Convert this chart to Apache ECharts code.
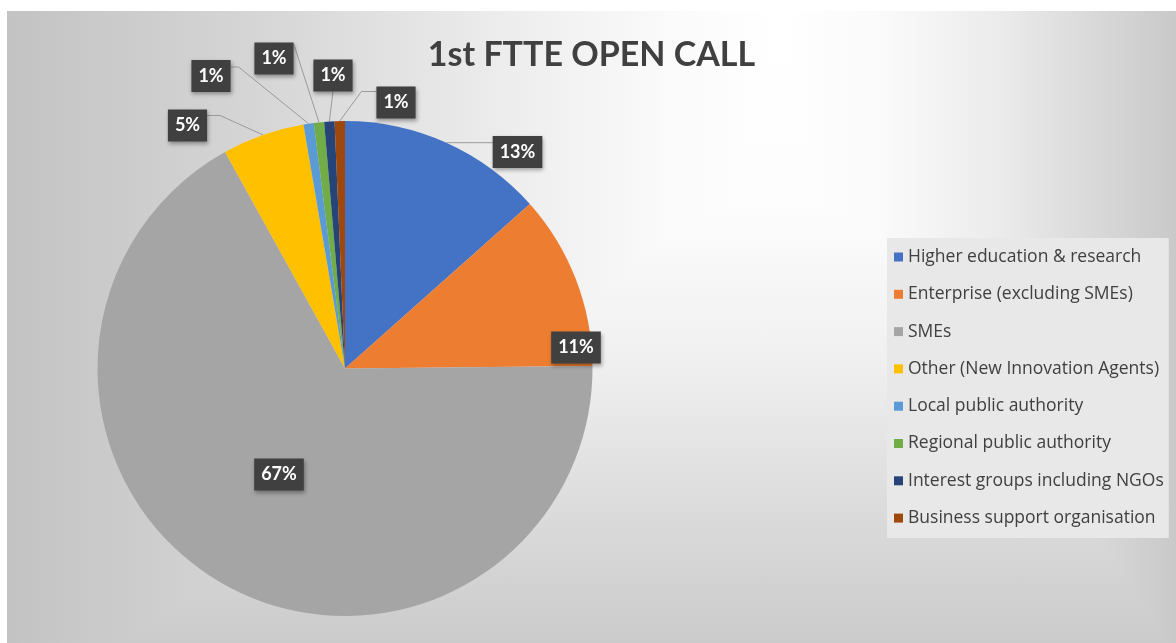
<!DOCTYPE html>
<html>
<head>
<meta charset="utf-8">
<script src="https://cdn.jsdelivr.net/npm/echarts@6/dist/echarts.min.js"></script>
<style>
  html, body { margin: 0; padding: 0; background: #ffffff; }
  #chart {
    position: absolute; left: 7px; top: 11px; width: 1169px; height: 632px;
    background:
      linear-gradient(to right, #c3c3c3 0%, #d6d6d6 22%, #ececec 42%, #fafafa 56%, #ffffff 66%, #fafafa 75%, #ebebeb 85%, #c9c9c9 100%),
      linear-gradient(to bottom, #ffffff 0%, #fdfdfd 30%, #f0f0f0 55%, #dcdcdc 78%, #cbcbcb 100%);
    background-blend-mode: darken;
  }
</style>
</head>
<body>
<div id="chart"></div>
<script>
// ---- data ----
const titleText = '1st FTTE OPEN CALL';
const categories = [
  'Higher education & research',
  'Enterprise (excluding SMEs)',
  'SMEs',
  'Other (New Innovation Agents)',
  'Local public authority',
  'Regional public authority',
  'Interest groups including NGOs',
  'Business support organisation'
];
const counts = [20, 17, 100, 8, 1, 1, 1, 1];
const sliceColors = ['#4472C4', '#ED7D31', '#A5A5A5', '#FFC000', '#5B9BD5', '#70AD47', '#264478', '#9E480E'];

// ---- layout ----
const PIE_CX = 338, PIE_CY = 357.5, PIE_R = 247.5;
// label box centre offsets from pie centre (px)
const labelOffsets = [
  [172.5, -216.5], [231, -21], [-66, 106], [-157.5, -243],
  [-134, -292.5], [-71, -310], [-12, -293], [51, -266]
];
const noLine = [false, true, true, false, false, false, false, false];

const chart = echarts.init(document.getElementById('chart'));

const seriesData = categories.map((name, i) => ({
  name: name,
  value: counts[i],
  itemStyle: { color: sliceColors[i] },
  labelLine: { show: !noLine[i] }
}));

function linePoints(i, edge, x, y, w, h) {
  const L = x - w / 2, R = x + w / 2, T = y - h / 2, B = y + h / 2;
  switch (i) {
    case 0: return [edge, [L, edge[1]], [L, edge[1]]];
    case 3: return [edge, [R + 13, T + 6], [R, T + 6]];
    case 4: return [edge, [R + 8, T + 7], [R, T + 7]];
    case 5: return [edge, [R, T + 1], [R, T + 1]];
    case 6: return [edge, [x, B], [x, B]];
    case 7: return [edge, [L - 15, T + 5], [L, T + 5]];
  }
  return null;
}

chart.setOption({
  backgroundColor: 'transparent',
  animation: false,
  title: {
    text: titleText,
    left: 'center',
    top: 21,
    textStyle: {
      fontFamily: 'Lato',
      fontWeight: 'bold',
      fontSize: 34,
      lineHeight: 36,
      color: '#404040'
    }
  },
  legend: {
    orient: 'vertical',
    left: 880,
    top: 227,
    data: categories,
    icon: 'rect',
    itemWidth: 9,
    itemHeight: 9,
    itemGap: 17.3,
    padding: [9, 5, 10, 7],
    backgroundColor: '#e8e8e8',
    selectedMode: false,
    textStyle: {
      fontFamily: 'Open Sans',
      fontSize: 17.5,
      lineHeight: 20,
      color: '#404040'
    }
  },
  series: [{
    type: 'pie',
    center: [PIE_CX, PIE_CY],
    radius: PIE_R,
    startAngle: 90,
    clockwise: true,
    avoidLabelOverlap: false,
    data: seriesData,
    itemStyle: { borderWidth: 0 },
    label: {
      show: true,
      position: 'outside',
      formatter: p => Math.round(p.percent) + '%',
      fontFamily: 'Lato',
      fontWeight: 'bold',
      fontSize: 18,
      lineHeight: 20,
      color: '#ffffff',
      backgroundColor: '#404040',
      padding: [6, 7],
      shadowBlur: 4,
      shadowOffsetX: 1,
      shadowOffsetY: 2,
      shadowColor: 'rgba(0,0,0,0.35)'
    },
    labelLine: {
      show: true,
      length: 10,
      length2: 10,
      lineStyle: { color: '#9a9a9a', width: 1 }
    },
    labelLayout: function (params) {
      const i = params.dataIndex;
      const x = PIE_CX + labelOffsets[i][0];
      const y = PIE_CY + labelOffsets[i][1];
      const out = { x: x, y: y, align: 'center', verticalAlign: 'middle' };
      if (!noLine[i] && params.labelLinePoints) {
        const edge = params.labelLinePoints[0];
        const pts = linePoints(i, [edge[0], edge[1]], x, y, params.labelRect.width, params.labelRect.height);
        if (pts) out.labelLinePoints = pts;
      }
      return out;
    }
  }]
});
</script>
</body>
</html>
